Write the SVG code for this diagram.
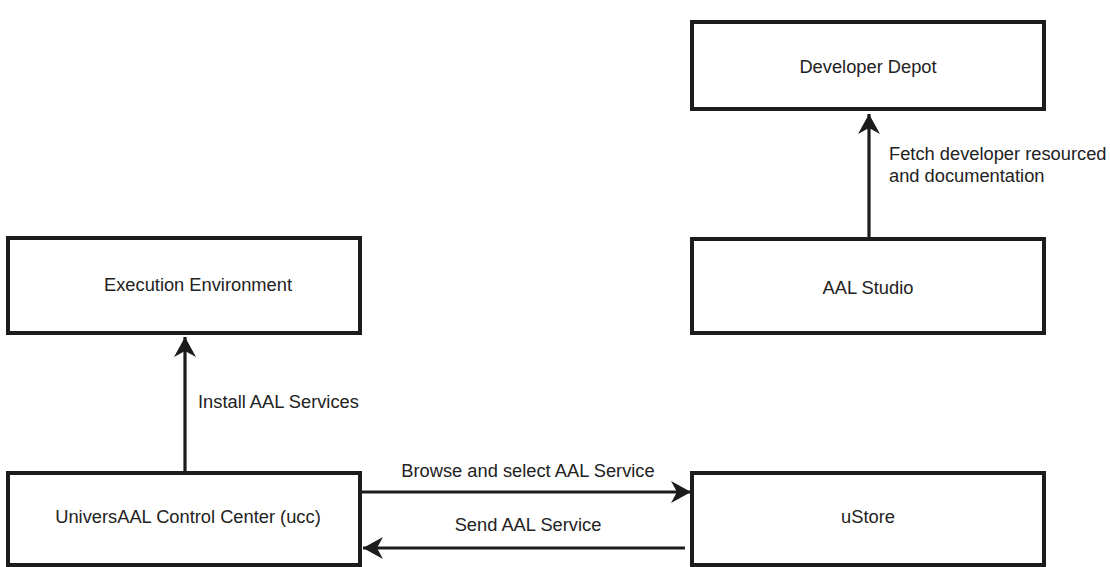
<svg xmlns="http://www.w3.org/2000/svg" width="1110" height="567" viewBox="0 0 1110 567">
<style>
.box{fill:#fff;stroke:#1c1c1c;stroke-width:4}
.t{font-family:"Liberation Sans",Arial,sans-serif;font-size:18.3px;fill:#222}
.c{text-anchor:middle}
.e{stroke:#1c1c1c;stroke-width:3.2;fill:none}
</style>
<defs>
<marker id="ah" viewBox="-21 -12 22 24" refX="0" refY="0" markerWidth="22" markerHeight="24" markerUnits="userSpaceOnUse" orient="auto">
<path d="M0,0 L-20,-11 L-14,0 L-20,11 Z" fill="#1c1c1c"/>
</marker>
</defs>
<rect width="1110" height="567" fill="#fff"/>
<g id="edges">
<g id="e-studio-depot"><line class="e" x1="869" y1="239" x2="869" y2="114" marker-end="url(#ah)"/>
<text class="t" x="889" y="160">Fetch developer resourced</text>
<text class="t" x="889" y="182">and documentation</text></g>
<g id="e-ucc-exec"><line class="e" x1="185" y1="473" x2="185" y2="337" marker-end="url(#ah)"/>
<text class="t" x="198" y="408">Install AAL Services</text></g>
<g id="e-ucc-ustore"><line class="e" x1="360" y1="492" x2="691" y2="492" marker-end="url(#ah)"/>
<text class="t c" x="528" y="477">Browse and select AAL Service</text></g>
<g id="e-ustore-ucc"><line class="e" x1="685" y1="548" x2="363" y2="548" marker-end="url(#ah)"/>
<text class="t c" x="528" y="531">Send AAL Service</text></g>
</g>
<g id="n-depot"><rect class="box" x="692" y="22" width="352" height="87"/><text class="t c" x="868" y="73">Developer Depot</text></g>
<g id="n-studio"><rect class="box" x="692" y="239" width="352" height="94"/><text class="t c" x="868" y="294">AAL Studio</text></g>
<g id="n-exec"><rect class="box" x="8" y="238" width="352" height="95"/><text class="t c" x="198" y="291">Execution Environment</text></g>
<g id="n-ucc"><rect class="box" x="8" y="473" width="352" height="92"/><text class="t c" x="188" y="523">UniversAAL Control Center (ucc)</text></g>
<g id="n-ustore"><rect class="box" x="692" y="473" width="352" height="92"/><text class="t c" x="868" y="523">uStore</text></g>
</svg>
